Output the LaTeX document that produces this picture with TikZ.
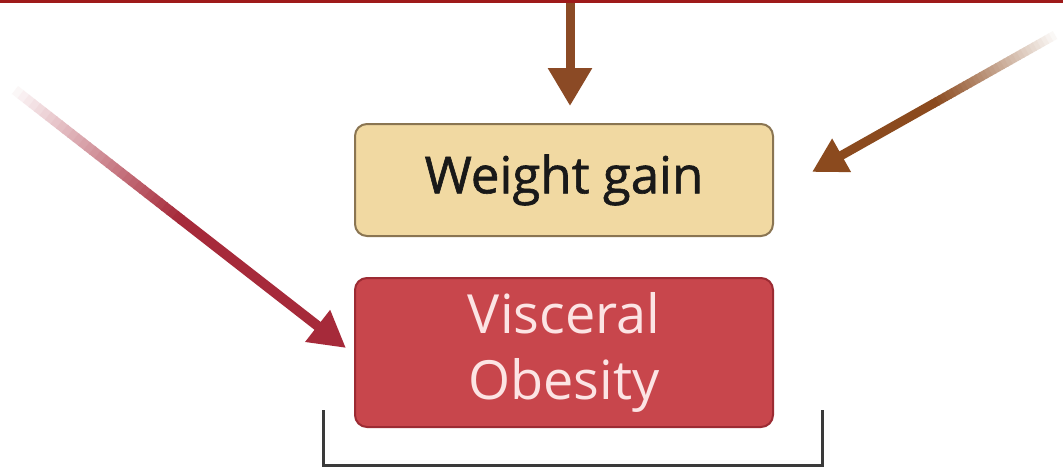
\documentclass[tikz,border=0pt]{standalone}
\usepackage{fontspec}
\setmainfont{Open Sans}
\newfontfamily\wgfont[FakeBold=1.2]{Open Sans}
\usetikzlibrary{arrows.meta,calc}
\definecolor{topred}{HTML}{9E1A1A}
\definecolor{wgfill}{HTML}{F1D9A2}
\definecolor{wgedge}{HTML}{8A7552}
\definecolor{vofill}{HTML}{C8464C}
\definecolor{voedge}{HTML}{9C2B33}
\definecolor{votext}{HTML}{FCE4E4}
\definecolor{larrow}{HTML}{A62A3A}
\definecolor{rarrow}{HTML}{8B4A1E}
\definecolor{varrow}{HTML}{8B4A25}
\definecolor{brk}{HTML}{3A3A3A}
\tikzset{
  box/.style={draw, line width=2pt, rounded corners=12pt, minimum width=418pt, inner sep=0pt, align=center},
  wgbox/.style={box, fill=wgfill, draw=wgedge, minimum height=112pt, font=\wgfont\fontsize{51}{55}\selectfont, text=black!90},
  vobox/.style={box, fill=vofill, draw=voedge, minimum height=149pt, font=\fontsize{54}{66}\selectfont, text=votext},
}
\begin{document}
\begin{tikzpicture}[x=1pt,y=-1pt]
\useasboundingbox (0,0) rectangle (1063,469);
\fill[white] (0,0) rectangle (1063,469);
% top rule
\coordinate (tl0) at (0,1);
\coordinate (tr0) at (1063,1);
\draw[topred, line width=3pt] (tl0) -- (tr0);
% boxes
\node[wgbox] (wg) at (564,180) {Weight gain};
\node[vobox] (vo) at (564,352.5) {Visceral\\Obesity};
% vertical arrow
\coordinate (vtop) at (570,3);
\coordinate (vtip) at (570,106);
\draw[varrow, line width=9pt, -{Triangle[length=38pt,width=42pt]}] (vtop) -- (vtip);
% left arrow with faded tail
\coordinate (ltail) at (15,90);
\coordinate (ltip) at (346,348);
\foreach \i in {0,...,29}{
  \pgfmathsetmacro{\p}{\i*3.3+4}
  \draw[larrow!\p!white, line width=10pt] ($(ltail)!\i/60!(ltip)$) -- ($(ltail)!\i/60+0.02!(ltip)$);
}
\draw[larrow, line width=10pt, -{Triangle[length=36pt,width=38pt]}] ($(ltail)!0.5!(ltip)$) -- (ltip);
% right arrow with faded tail
\coordinate (rtail) at (1055,35);
\coordinate (rtip) at (812,172);
\foreach \i in {0,...,29}{
  \pgfmathsetmacro{\p}{\i*3.3+4}
  \draw[rarrow!\p!white, line width=9pt] ($(rtail)!\i/60!(rtip)$) -- ($(rtail)!\i/60+0.02!(rtip)$);
}
\draw[rarrow, line width=9pt, -{Triangle[length=34pt,width=36pt]}] ($(rtail)!0.5!(rtip)$) -- (rtip);
% bracket
\coordinate (b1) at (323,410);
\coordinate (b2) at (822,410);
\draw[brk, line width=3pt] (b1) -- (b1 |- 0,465) -- (b2 |- 0,465) -- (b2);
\end{tikzpicture}
\end{document}
